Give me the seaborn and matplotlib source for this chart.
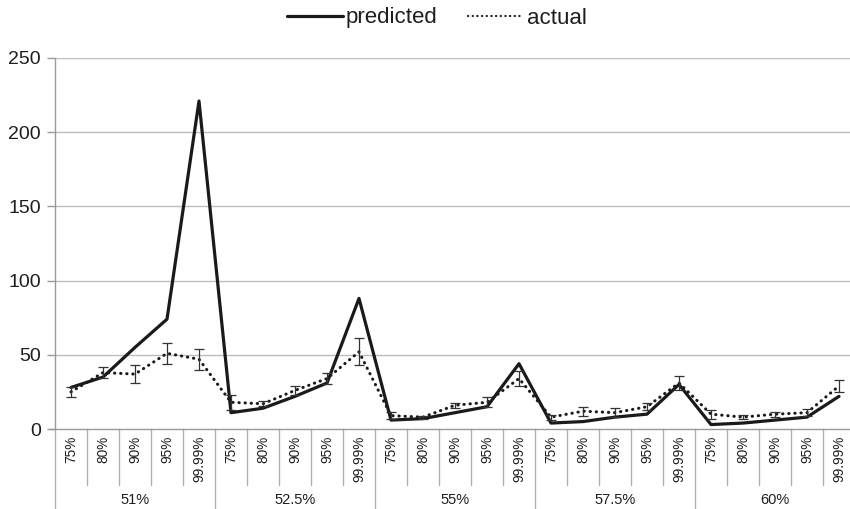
import numpy as np
import pandas as pd
import matplotlib
matplotlib.use("Agg")
import matplotlib.pyplot as plt
import matplotlib.transforms as mtransforms
from matplotlib.lines import Line2D
import seaborn as sns

groups = ["51%", "52.5%", "55%", "57.5%", "60%"]
subs = ["75%", "80%", "90%", "95%", "99.99%"]
predicted = [28, 35, 55, 74, 221,
             11, 14, 22, 31, 88,
             6, 7, 11, 15, 44,
             4, 5, 8, 10, 30,
             3, 4, 6, 8, 22]
actual = [25, 38, 37, 51, 47,
          18, 17, 26, 34, 52,
          9, 8, 16, 18, 34,
          8, 12, 11, 15, 31,
          10, 8, 10, 11, 29]
actual_err = [3.5, 3.6, 6, 7, 7,
              5, 1.7, 3, 3.6, 9,
              2.2, 1, 1.7, 3.4, 5,
              1.7, 3, 3, 2.5, 5,
              3, 1.4, 1.7, 2.2, 4.2]
yticks = [0, 50, 100, 150, 200, 250]

sns.set_theme(style="white")
plt.rcParams['font.family'] = ['Liberation Sans', 'DejaVu Sans']

n = len(groups) * len(subs)
df = pd.DataFrame({
    "pos": np.arange(n),
    "group": np.repeat(groups, len(subs)),
    "sub": subs * len(groups),
    "predicted": predicted,
    "actual": actual,
    "err": actual_err,
})

fig = plt.figure(figsize=(8.5, 5.09), dpi=100)
W, H = 850, 509
ax = fig.add_axes([55 / W, 80 / H, 800 / W, 371 / H])

grid_c = "#bdbdbd"
axis_c = "#9a9a9a"
txt_c = "#1e1e1e"
dot_style = (0, (0.1, 1.9))

for yv in yticks[1:]:
    ax.axhline(yv, color=grid_c, lw=1.0, zorder=0)

sns.lineplot(data=df, x="pos", y="predicted", ax=ax, color="#1a1a1a",
             lw=2.3, zorder=3, legend=False)
sns.lineplot(data=df, x="pos", y="actual", ax=ax, color="#1a1a1a",
             lw=2.2, zorder=4, legend=False,
             linestyle=dot_style, dash_capstyle="round")
ax.errorbar(df["pos"], df["actual"], yerr=df["err"], fmt="none",
            ecolor="#333333", elinewidth=0.9, capsize=3.3, capthick=0.9, zorder=5)

ax.set_xlim(-0.5, n - 0.5)
ax.set_ylim(0, 250)
ax.set_yticks(yticks)
ax.set_yticklabels([str(v) for v in yticks], fontsize=14, color=txt_c)
ax.tick_params(axis="y", length=6, width=1, color=axis_c, pad=4, left=True)
ax.set_xticks([])
ax.set_xlabel("")
ax.set_ylabel("")
for s in ["top", "right"]:
    ax.spines[s].set_visible(False)
for s in ["left", "bottom"]:
    ax.spines[s].set_color(axis_c)
    ax.spines[s].set_linewidth(1)

trans = mtransforms.blended_transform_factory(ax.transData, ax.transAxes)
px = 1.0 / 371.0
ax.plot([-0.5 - 6 / 32, -0.5], [0, 0], transform=trans, color=axis_c, lw=1, clip_on=False)

for i in range(n + 1):
    xb = i - 0.5
    depth = 80 if i % len(subs) == 0 else 56
    ax.plot([xb, xb], [0, -depth * px], transform=trans, color="#b0b0b0", lw=1, clip_on=False)

for i, lab in enumerate(df["sub"]):
    ax.text(i, -7 * px, lab, transform=trans, rotation=90, ha="center", va="top",
            fontsize=9.8, color=txt_c)

for g, lab in enumerate(groups):
    xc = g * len(subs) + (len(subs) - 1) / 2
    ax.text(xc, -71 * px, lab, transform=trans, ha="center", va="center",
            fontsize=10.5, color=txt_c)

handles = [Line2D([], [], color="#1a1a1a", lw=2.3),
           Line2D([], [], color="#1a1a1a", lw=1.6, linestyle=(0, (0.1, 2.0)),
                  dash_capstyle="round")]
fig.legend(handles, ["predicted", "actual"], loc="center", bbox_to_anchor=(0.514, 1 - 18 / H),
           ncol=2, frameon=False, fontsize=16, handlelength=2.5, handletextpad=0.12,
           columnspacing=1.4, labelcolor=txt_c)

fig.savefig("out.png", dpi=100)
